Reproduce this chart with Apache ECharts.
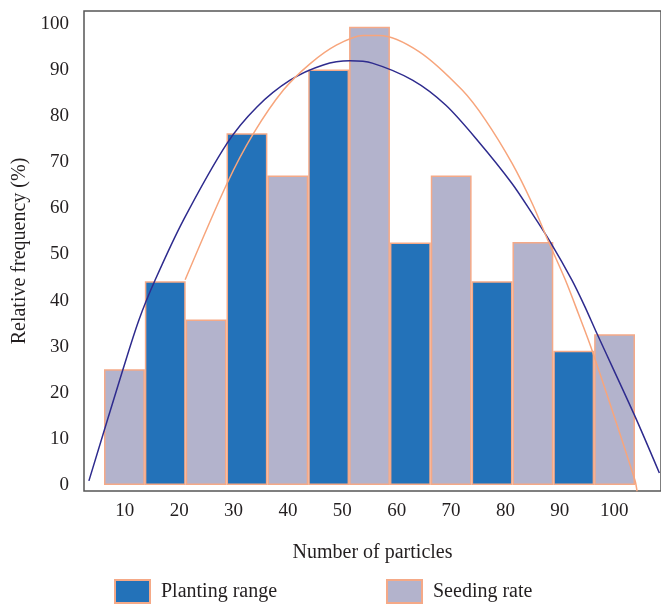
<!DOCTYPE html>
<html><head><meta charset="utf-8">
<script src="https://cdn.jsdelivr.net/npm/echarts@6/dist/echarts.min.js"></script>
<style>html,body{margin:0;padding:0;background:#fff}#c{width:661px;height:606px}</style>
</head><body><div id="c"></div>
<script>
const yTicks = [0, 10, 20, 30, 40, 50, 60, 70, 80, 90, 100];
const xTicks = [10, 20, 30, 40, 50, 60, 70, 80, 90, 100];
const binCenters = [10, 17.5, 25, 32.5, 40, 47.5, 55, 62.5, 70, 77.5, 85, 92.5, 100];
const plantingRange = [null, 44.2, null, 76.3, null, 90.1, null, 52.6, null, 44.2, null, 29.1, null];
const seedingRate = [25.1, null, 35.9, null, 67.1, null, 99.4, null, 67.1, null, 52.7, null, 32.7];
const plantingCurve = [
  [3.4, 0.9], [9.7, 25.2], [12.6, 35.8], [15.6, 44.5], [20.8, 57.5], [28.8, 74.1],
  [34.3, 82.0], [40.4, 87.8], [46.5, 91.1], [51.4, 92.0], [55.5, 91.5], [62.9, 87.8],
  [69.0, 82.4], [75.1, 74.4], [81.2, 65.4], [84.9, 58.9], [88.2, 52.8], [92.2, 44.5],
  [94.6, 38.7], [96.8, 32.9], [103.7, 15.2], [108.3, 2.6]
];
const seedingCurve = [
  [21.1, 44.5], [28.8, 65.4], [33.7, 76.3], [39.2, 85.7], [44.1, 91.4], [48.9, 95.4],
  [53.8, 97.5], [56.8, 97.5], [64.1, 94.0], [72.0, 85.7], [76.3, 79.2], [81.2, 69.8],
  [84.9, 61.1], [87.9, 52.8], [91.0, 44.5], [93.4, 37.2], [95.9, 29.3], [103.8, 1.1],
  [104.2, -1.4]
];

const FONT = 'Liberation Serif';
const TXT = '#231f20';
const BLUE = '#2372b9';
const LAV = '#b3b3cc';
const EDGE = '#f5a987';
const YMIN = -1.3, YMAX = 102.8;

const chart = echarts.init(document.getElementById('c'));
chart.setOption({
  animation: false,
  backgroundColor: '#fff',
  textStyle: { fontFamily: FONT, color: TXT },
  grid: [
    { left: 84, top: 11, right: -2, bottom: 115, show: true, borderColor: '#555', borderWidth: 1.5 },
    { left: 104, top: 11, right: 26, bottom: 115 }
  ],
  legend: [
    { data: ['Planting range'], left: 114, top: 579, padding: 0, itemWidth: 35, itemHeight: 23, icon: 'rect',
      textStyle: { fontFamily: FONT, fontSize: 20, color: TXT, padding: [0, 0, 0, 6] } },
    { data: ['Seeding rate'], left: 386, top: 579, padding: 0, itemWidth: 35, itemHeight: 23, icon: 'rect',
      textStyle: { fontFamily: FONT, fontSize: 20, color: TXT, padding: [0, 0, 0, 6] } }
  ],
  xAxis: [
    { type: 'value', gridIndex: 0, min: 2.5, max: 108.6,
      name: 'Number of particles', nameLocation: 'middle', nameGap: 52,
      nameTextStyle: { fontFamily: FONT, fontSize: 20, color: TXT },
      axisLine: { show: false }, axisTick: { show: false }, splitLine: { show: false },
      axisLabel: { customValues: xTicks, fontFamily: FONT, fontSize: 19, color: TXT, margin: 11 } },
    { type: 'category', gridIndex: 1, data: binCenters, boundaryGap: true, show: false }
  ],
  yAxis: [
    { type: 'value', gridIndex: 0, min: YMIN, max: YMAX,
      name: 'Relative frequency (%)', nameLocation: 'middle', nameGap: 50,
      nameTextStyle: { fontFamily: FONT, fontSize: 20, color: TXT },
      axisLine: { show: false }, axisTick: { show: false }, splitLine: { show: false },
      axisLabel: { customValues: yTicks, fontFamily: FONT, fontSize: 19, color: TXT, margin: 15 } },
    { type: 'value', gridIndex: 1, min: YMIN, max: YMAX, show: false, splitLine: { show: false } }
  ],
  series: [
    { name: 'Planting range', type: 'bar', xAxisIndex: 1, yAxisIndex: 1, data: plantingRange,
      barWidth: '100%', barGap: '-100%',
      itemStyle: { color: BLUE, borderColor: EDGE, borderWidth: 1.5 } },
    { name: 'Seeding rate', type: 'bar', xAxisIndex: 1, yAxisIndex: 1, data: seedingRate,
      barWidth: '100%', barGap: '-100%',
      itemStyle: { color: LAV, borderColor: EDGE, borderWidth: 1.5 } },
    { name: 'Planting fit', type: 'line', xAxisIndex: 0, yAxisIndex: 0, data: plantingCurve,
      smooth: 0.3, showSymbol: false, symbol: 'none', z: 5,
      lineStyle: { color: '#2e2b8e', width: 1.5 } },
    { name: 'Seeding fit', type: 'line', xAxisIndex: 0, yAxisIndex: 0, data: seedingCurve,
      smooth: 0.3, showSymbol: false, symbol: 'none', z: 5,
      lineStyle: { color: '#f7a57c', width: 1.5 } }
  ]
});
</script></body></html>
